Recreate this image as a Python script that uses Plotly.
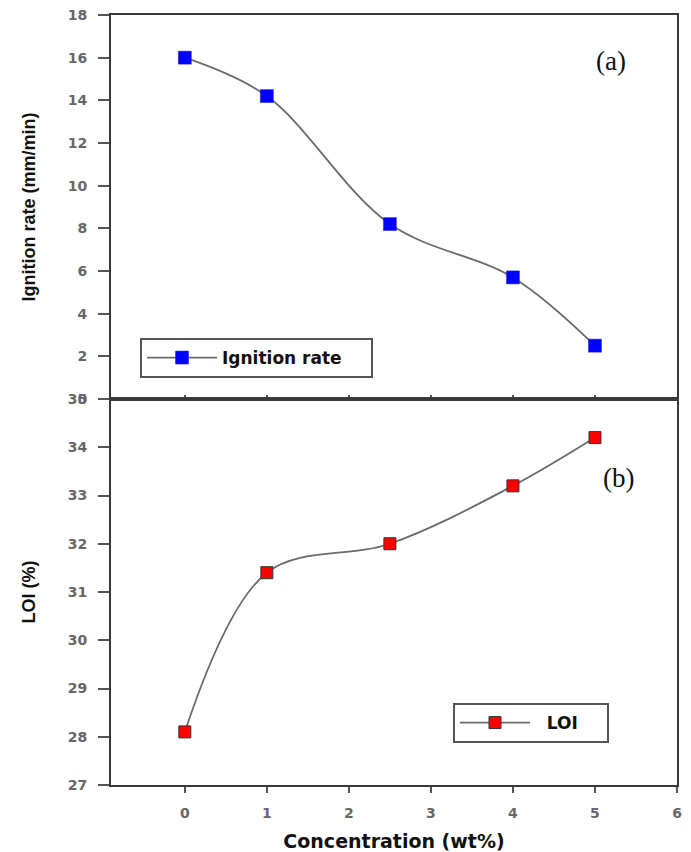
import plotly.graph_objects as go

concentration = [0, 1, 2.5, 4, 5]
ignition_rate = [16.0, 14.2, 8.2, 5.7, 2.5]
loi = [28.1, 31.4, 32.0, 33.2, 34.2]

x_ticks = [0, 1, 2, 3, 4, 5, 6]
top_y_ticks = [0, 2, 4, 6, 8, 10, 12, 14, 16, 18]
bot_y_ticks = [27, 28, 29, 30, 31, 32, 33, 34, 35]

W, H = 691, 852
PL, PR, PT, PB = 111, 677, 15, 785  # plot area in page pixels
PMID = 399

def px_x(sx):
    return (sx - PL) / (PR - PL)

def px_y(sy):
    return (PB - sy) / (PB - PT)

tickfont = dict(family="DejaVu Sans", size=14, color="#666666", weight="bold")
axis_common = dict(showline=True, linecolor="#3a3a3a", linewidth=2, mirror=True,
                   showgrid=False, zeroline=False, tickcolor="#555", tickwidth=1.5,
                   automargin=False)
legend_font = dict(family="DejaVu Sans", size=17, color="#111", weight="bold")
NB = "\u00a0"

fig = go.Figure()
fig.add_trace(go.Scatter(
    x=concentration, y=ignition_rate, mode="lines+markers",
    name="Ignition rate" + NB * 4,
    line=dict(shape="spline", color="#6a6a6a", width=1.8, smoothing=1.0),
    marker=dict(symbol="square", size=13, color="#0000ff", line=dict(color="#2020d0", width=0.5)),
    xaxis="x", yaxis="y", legend="legend"))
fig.add_trace(go.Scatter(
    x=concentration, y=loi, mode="lines+markers",
    name=NB * 2 + "LOI" + NB * 4,
    line=dict(shape="spline", color="#6a6a6a", width=1.8, smoothing=1.0),
    marker=dict(symbol="square", size=12, color="#ff0000", line=dict(color="#333", width=1)),
    xaxis="x2", yaxis="y2", legend="legend2"))

split = px_y(PMID)
fig.update_layout(
    width=W, height=H,
    margin=dict(l=PL, r=W - PR, t=PT, b=H - PB),
    plot_bgcolor="white", paper_bgcolor="white",
    showlegend=True,
    xaxis=dict(domain=[0, 1], range=[-0.9, 6], tickvals=x_ticks, showticklabels=False,
               ticks="inside", ticklen=4, anchor="y", **axis_common),
    yaxis=dict(domain=[split, 1], range=[0, 18], tickvals=top_y_ticks, ticks="outside",
               ticklen=11, ticklabelstandoff=8, tickfont=tickfont, anchor="x",
               title=dict(text="Ignition rate (mm/min)", standoff=27,
                          font=dict(family="Liberation Sans, Arial", size=18, color="#111", weight="bold")),
               **axis_common),
    xaxis2=dict(domain=[0, 1], range=[-0.9, 6], tickvals=x_ticks, ticks="outside", ticklen=6,
                ticklabelstandoff=8, tickfont=tickfont, anchor="y2",
                title=dict(text="Concentration (wt%)", standoff=16,
                           font=dict(family="DejaVu Sans", size=19, color="#111", weight="bold")),
                **axis_common),
    yaxis2=dict(domain=[0, split], range=[27, 35], tickvals=bot_y_ticks, ticks="outside",
                ticklen=11, ticklabelstandoff=8, tickfont=tickfont, anchor="x2",
                title=dict(text="LOI (%)", standoff=27,
                           font=dict(family="Liberation Sans, Arial", size=18, color="#111", weight="bold")),
                **axis_common),
    legend=dict(x=px_x(140), y=px_y(338), xanchor="left", yanchor="top",
                bordercolor="#555", borderwidth=2, bgcolor="white",
                font=legend_font, itemwidth=70),
    legend2=dict(x=px_x(453), y=px_y(703), xanchor="left", yanchor="top",
                 bordercolor="#555", borderwidth=2, bgcolor="white",
                 font=legend_font, itemwidth=70),
    annotations=[
        dict(text="(a)", x=px_x(611), y=px_y(61), xref="paper", yref="paper",
             xanchor="center", yanchor="middle",
             showarrow=False, font=dict(family="Liberation Serif, Times New Roman", size=27, color="#111")),
        dict(text="(b)", x=px_x(618), y=px_y(478), xref="paper", yref="paper",
             xanchor="center", yanchor="middle",
             showarrow=False, font=dict(family="Liberation Serif, Times New Roman", size=27, color="#111")),
    ],
)

fig.write_html("out.html", config={"displayModeBar": False},
               post_script="document.body.style.margin='0px';")
